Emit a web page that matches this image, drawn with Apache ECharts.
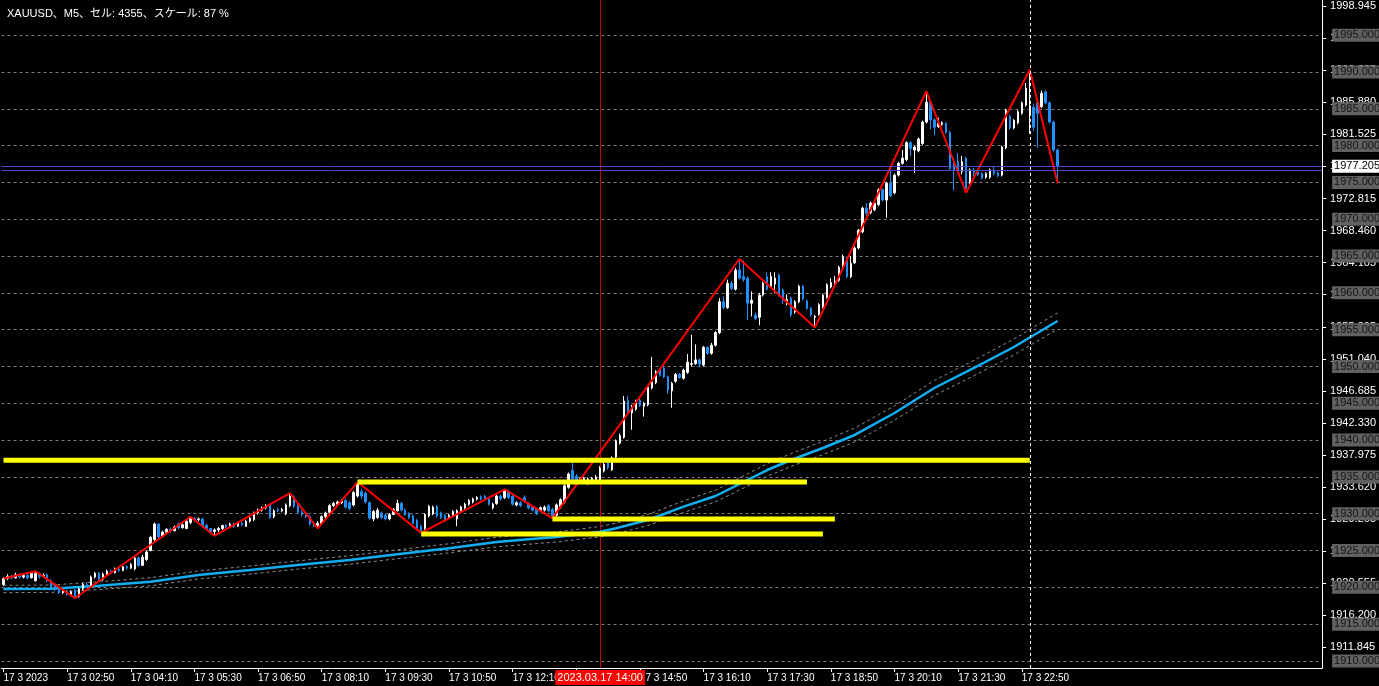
<!DOCTYPE html>
<html><head><meta charset="utf-8">
<script src="https://cdn.jsdelivr.net/npm/echarts@6/dist/echarts.min.js"></script>
<style>html,body{margin:0;padding:0;background:#000;}#c{width:1379px;height:686px;}</style>
</head><body><div id="c"></div><script>
const titleText = 'XAUUSD、M5、セル: 4355、スケール: 87 %';
const slotCount = 332;
// [open, close, low, high] per 5-minute bar, from 01:30
const ohlc = [
[1920.4,1921.2,1920.2,1921.4],[1921.2,1921.5,1921.0,1921.8],[1921.5,1921.3,1921.1,1921.7],[1921.3,1921.7,1921.2,1922.0],[1921.7,1921.4,1921.2,1921.9],
[1921.4,1921.6,1921.2,1921.8],[1921.6,1921.3,1921.1,1921.8],[1921.3,1921.9,1921.2,1922.0],[1920.9,1921.9,1920.8,1922.2],[1921.9,1921.5,1921.2,1922.0],
[1921.5,1921.6,1921.3,1921.9],[1921.7,1920.9,1920.7,1921.9],[1920.9,1920.1,1919.9,1921.1],[1920.2,1919.7,1919.5,1920.5],[1919.7,1919.3,1919.1,1919.9],
[1919.3,1919.6,1919.1,1919.8],[1919.5,1919.0,1918.9,1919.7],[1919.0,1919.4,1918.8,1919.6],[1919.6,1918.7,1918.55,1919.8],[1918.8,1919.8,1918.6,1920.0],
[1919.8,1920.4,1919.6,1920.6],[1920.4,1920.2,1919.9,1920.7],[1920.2,1921.4,1920.1,1921.6],[1921.4,1921.9,1921.2,1922.1],[1921.9,1921.1,1920.9,1922.1],
[1921.1,1921.8,1920.9,1922.0],[1921.8,1922.2,1921.6,1922.4],[1922.2,1922.0,1921.8,1922.4],[1922.0,1922.5,1921.9,1922.7],[1922.5,1922.3,1922.1,1922.7],
[1922.3,1922.8,1922.2,1922.9],[1922.8,1922.6,1922.4,1923.0],[1922.6,1923.1,1922.5,1923.3],[1922.5,1924.0,1922.3,1924.1],[1924.0,1923.0,1922.8,1924.2],
[1923.0,1924.1,1922.9,1924.4],[1923.8,1924.8,1923.6,1925.0],[1925.0,1926.8,1924.9,1927.0],[1926.5,1928.6,1926.3,1928.8],[1928.6,1926.9,1926.7,1928.7],
[1926.9,1927.5,1926.8,1927.7],[1927.5,1927.9,1927.3,1928.0],[1927.9,1927.7,1927.4,1928.1],[1927.7,1928.2,1927.6,1928.4],[1928.6,1928.1,1927.9,1928.8],
[1928.1,1928.5,1928.0,1928.7],[1928.0,1929.0,1927.9,1929.2],[1928.8,1929.4,1928.6,1929.6],[1929.4,1929.2,1928.9,1929.5],[1929.2,1929.3,1929.0,1929.5],
[1929.3,1928.3,1928.1,1929.4],[1928.4,1928.0,1927.8,1928.6],[1928.0,1927.6,1927.4,1928.1],[1927.6,1927.8,1927.0,1928.0],[1927.8,1928.0,1927.5,1928.2],
[1928.0,1928.4,1927.8,1928.5],[1928.4,1928.2,1928.0,1928.6],[1928.2,1928.6,1928.1,1928.8],[1928.6,1928.3,1928.1,1928.8],[1928.3,1928.7,1928.2,1928.9],
[1928.7,1928.5,1928.3,1928.9],[1928.3,1929.0,1928.2,1929.2],[1929.0,1929.4,1928.8,1929.6],[1929.2,1930.1,1929.0,1930.3],[1930.1,1930.5,1929.9,1930.7],
[1930.5,1930.8,1930.3,1931.0],[1930.8,1931.1,1930.6,1931.3],[1931.2,1929.5,1929.3,1931.4],[1929.6,1930.4,1929.4,1930.6],[1930.6,1930.4,1930.2,1930.8],
[1930.4,1930.6,1930.2,1930.8],[1930.0,1931.2,1929.8,1931.4],[1931.1,1932.4,1930.9,1932.8],[1932.3,1931.0,1930.8,1932.5],[1931.0,1930.2,1930.0,1931.3],
[1930.2,1929.9,1929.6,1930.5],[1929.9,1929.6,1929.4,1930.1],[1929.6,1928.6,1928.4,1929.8],[1928.6,1928.4,1928.2,1928.9],[1928.4,1928.7,1928.0,1929.0],
[1928.7,1929.6,1928.5,1929.8],[1929.6,1930.1,1929.4,1930.3],[1930.2,1931.1,1930.0,1931.3],[1931.1,1931.4,1930.9,1931.6],[1931.3,1931.6,1931.2,1931.8],
[1931.5,1931.7,1931.3,1932.0],[1931.8,1930.9,1930.7,1932.0],[1931.5,1930.7,1930.5,1931.7],[1931.2,1932.9,1931.0,1933.1],[1932.4,1934.1,1932.2,1934.3],
[1933.0,1932.4,1932.0,1933.4],[1932.8,1931.6,1931.4,1933.0],[1931.5,1929.4,1929.2,1931.7],[1929.3,1930.3,1929.0,1930.5],[1929.5,1930.5,1929.3,1930.8],
[1930.1,1929.5,1929.3,1930.3],[1929.8,1929.3,1929.1,1930.0],[1929.3,1929.9,1929.1,1930.1],[1929.9,1930.6,1929.8,1930.8],[1930.4,1931.4,1930.3,1931.9],
[1931.4,1930.5,1930.3,1931.6],[1930.5,1929.9,1929.7,1930.7],[1930.0,1929.5,1929.3,1930.2],[1929.7,1928.7,1928.5,1929.9],[1929.1,1928.0,1927.8,1929.3],
[1928.3,1927.7,1927.4,1928.5],[1928.0,1929.9,1927.8,1930.1],[1929.7,1931.0,1929.5,1931.2],[1930.0,1930.9,1929.8,1931.1],[1931.0,1929.7,1929.5,1931.2],
[1930.1,1929.5,1929.3,1930.3],[1929.8,1929.1,1928.9,1930.0],[1929.6,1929.8,1929.4,1930.0],[1929.8,1930.3,1929.6,1930.5],[1929.3,1930.4,1928.3,1930.6],
[1930.4,1930.9,1930.2,1931.1],[1930.8,1931.3,1930.6,1931.5],[1931.3,1931.8,1931.1,1932.0],[1931.6,1932.0,1931.4,1932.2],[1932.0,1932.2,1931.8,1932.4],
[1932.3,1932.0,1931.8,1932.5],[1932.4,1932.0,1931.8,1932.6],[1932.0,1931.3,1931.1,1932.2],[1930.8,1931.3,1930.6,1931.5],[1931.4,1932.4,1931.2,1932.6],
[1932.4,1932.0,1931.8,1932.6],[1932.2,1933.1,1932.0,1933.3],[1933.0,1932.2,1932.0,1933.2],[1932.4,1931.3,1931.1,1932.6],[1931.2,1931.5,1931.0,1931.7],
[1931.5,1931.1,1930.9,1931.7],[1932.2,1931.7,1931.5,1932.5],[1931.4,1930.8,1930.6,1931.6],[1930.9,1930.5,1930.3,1931.1],[1930.6,1930.0,1929.8,1930.8],
[1930.4,1930.8,1930.2,1931.0],[1930.5,1930.9,1930.3,1931.1],[1931.1,1930.4,1930.2,1931.3],[1930.6,1929.7,1929.4,1930.8],[1929.8,1931.2,1929.6,1931.4],
[1930.9,1931.9,1930.7,1932.1],[1931.6,1933.8,1931.4,1934.0],[1933.6,1935.4,1933.4,1935.6],[1935.9,1934.7,1934.4,1936.9],[1935.1,1934.5,1934.3,1935.4],
[1934.3,1934.8,1934.1,1935.0],[1934.4,1934.8,1934.1,1935.0],[1934.2,1934.7,1933.9,1934.9],[1934.5,1934.8,1934.3,1935.0],[1934.6,1935.0,1934.4,1935.3],
[1934.6,1936.2,1934.4,1936.5],[1935.8,1936.7,1935.6,1937.0],[1936.9,1936.3,1936.0,1937.1],[1936.0,1937.6,1935.8,1937.8],[1937.7,1939.9,1937.5,1940.1],
[1939.6,1940.6,1939.4,1940.9],[1940.4,1945.3,1940.2,1946.0],[1945.4,1943.8,1943.5,1946.0],[1943.7,1944.4,1941.4,1944.8],[1944.2,1945.2,1944.0,1945.5],
[1945.4,1944.7,1944.5,1945.6],[1944.6,1945.0,1943.2,1945.2],[1944.8,1947.2,1944.6,1947.4],[1947.1,1947.9,1946.9,1951.3],[1947.8,1949.3,1947.6,1949.5],
[1949.6,1948.8,1948.6,1949.8],[1949.8,1948.6,1948.4,1950.0],[1948.6,1946.8,1946.3,1948.8],[1946.7,1947.7,1944.4,1947.9],[1948.0,1948.9,1947.8,1949.1],
[1948.9,1948.5,1948.3,1949.1],[1948.4,1949.5,1948.2,1949.7],[1949.2,1950.6,1949.0,1951.7],[1950.3,1950.4,1950.0,1954.3],[1950.4,1950.9,1950.2,1953.0],
[1950.9,1950.3,1949.9,1951.1],[1950.2,1952.6,1950.0,1952.8],[1952.6,1951.8,1951.6,1952.8],[1951.8,1952.9,1951.6,1953.2],[1952.9,1954.6,1952.7,1954.8],
[1954.6,1958.8,1954.4,1959.3],[1958.8,1958.0,1957.8,1959.5],[1958.0,1961.3,1957.8,1961.8],[1961.3,1960.6,1960.4,1961.6],[1960.5,1963.1,1960.3,1963.4],
[1963.1,1962.0,1961.8,1964.6],[1962.2,1961.8,1961.5,1964.4],[1962.0,1958.6,1956.3,1962.2],[1958.6,1959.0,1956.8,1960.2],[1957.0,1956.5,1956.3,1957.3],
[1956.7,1959.7,1955.6,1960.0],[1959.7,1961.3,1959.5,1961.5],[1962.2,1960.5,1960.3,1962.8],[1960.9,1962.2,1960.7,1962.8],[1961.2,1962.0,1960.0,1962.8],
[1962.4,1959.7,1959.5,1962.6],[1960.4,1959.0,1958.5,1960.6],[1958.8,1959.1,1958.3,1959.8],[1959.3,1957.0,1956.7,1959.5],[1957.4,1958.8,1957.2,1959.0],
[1958.8,1960.9,1958.6,1961.1],[1960.9,1959.2,1959.0,1961.1],[1958.9,1957.9,1957.7,1959.1],[1957.9,1957.0,1956.8,1958.1],[1956.7,1956.8,1955.3,1957.0],
[1957.1,1958.4,1956.9,1958.6],[1958.1,1959.7,1957.9,1959.9],[1959.4,1961.1,1959.2,1961.3],[1960.8,1961.4,1960.6,1962.0],[1961.2,1961.6,1961.0,1962.3],
[1961.7,1963.5,1961.5,1963.7],[1963.5,1964.9,1963.3,1965.2],[1964.7,1962.2,1962.0,1964.9],[1962.2,1964.0,1962.0,1965.0],[1964.1,1966.1,1963.9,1966.3],
[1966.1,1968.5,1965.9,1968.7],[1968.3,1971.5,1968.1,1971.7],[1971.5,1970.8,1970.4,1972.2],[1970.9,1972.2,1970.7,1972.4],[1971.3,1972.2,1971.1,1972.4],
[1972.0,1974.0,1971.8,1974.2],[1974.0,1972.6,1972.4,1974.2],[1972.6,1974.9,1970.2,1975.1],[1974.9,1973.2,1973.0,1977.0],[1973.6,1976.0,1973.4,1976.2],
[1976.0,1977.6,1975.8,1977.8],[1977.6,1978.3,1977.4,1979.4],[1978.1,1980.4,1977.9,1980.6],[1980.4,1979.6,1978.6,1980.6],[1979.4,1979.8,1976.3,1980.0],
[1979.3,1980.9,1979.1,1981.1],[1980.3,1983.2,1980.1,1983.4],[1983.2,1985.9,1983.0,1987.4],[1985.9,1983.5,1982.2,1986.2],[1983.5,1982.5,1981.4,1983.7],
[1982.6,1983.0,1982.4,1983.8],[1982.9,1983.1,1982.7,1983.3],[1983.0,1981.8,1981.6,1983.2],[1981.8,1976.9,1976.7,1982.0],[1977.5,1976.6,1973.9,1977.7],
[1977.8,1976.6,1976.4,1979.0],[1976.5,1977.8,1976.1,1978.6],[1978.3,1974.2,1973.6,1978.5],[1975.0,1976.7,1974.8,1976.9],[1976.6,1976.3,1975.9,1977.0],
[1976.4,1976.1,1975.9,1976.6],[1976.2,1975.6,1975.4,1976.4],[1975.7,1976.2,1975.5,1976.4],[1975.7,1976.7,1975.5,1976.9],[1976.6,1976.2,1976.0,1977.1],
[1976.3,1975.9,1975.7,1976.5],[1976.0,1979.8,1975.8,1980.0],[1979.7,1984.8,1979.5,1985.0],[1984.0,1982.4,1982.2,1984.2],[1982.4,1983.4,1982.2,1983.6],
[1983.1,1984.6,1982.9,1984.8],[1984.4,1985.8,1984.2,1986.0],[1985.5,1987.8,1985.3,1988.5],[1984.3,1985.4,1981.6,1990.3],[1985.2,1982.5,1982.0,1985.6],
[1985.8,1984.4,1979.7,1986.0],[1985.3,1987.1,1985.1,1987.5],[1987.3,1985.8,1985.6,1987.5],[1985.8,1983.2,1983.0,1986.0],[1983.2,1979.4,1979.2,1983.4],
[1979.4,1977.2,1974.9,1979.6]
];
// ZigZag vertices [barIndex, price]
const zigzag = [[0,1921.2],[8,1922.2],[18,1918.55],[47,1929.6],[53,1927.0],[72,1932.8],[79,1928.0],[89,1934.3],[105,1927.4],[126,1933.3],[138,1929.4],[185,1964.6],[204,1955.3],[232,1987.4],[242,1973.6],[258,1990.3],[265,1974.9]];
// moving average and its envelope
const maIdx   = [0,12,24,37,49,62,74,87,99,112,124,132,139,150,154,162,171,179,192,198,206,214,224,234,244,254,265];
const maVal   = [1919.78,1919.82,1920.23,1920.77,1921.68,1922.36,1923.04,1923.72,1924.49,1925.31,1926.16,1926.53,1926.84,1927.56,1928.02,1929.15,1930.96,1932.41,1935.94,1937.30,1938.93,1940.70,1943.68,1947.08,1949.80,1952.65,1956.18];
const maUpper = [1920.28,1920.32,1920.75,1921.32,1922.23,1922.91,1923.60,1924.30,1925.09,1925.93,1926.81,1927.20,1927.52,1928.26,1928.74,1929.90,1931.74,1933.21,1936.79,1938.17,1939.83,1941.65,1944.65,1948.10,1950.85,1953.73,1957.28];
const maLower = [1919.28,1919.32,1919.71,1920.22,1921.13,1921.81,1922.48,1923.14,1923.89,1924.69,1925.51,1925.86,1926.16,1926.86,1927.30,1928.40,1930.18,1931.61,1935.09,1936.43,1938.03,1939.75,1942.71,1946.06,1948.75,1951.57,1955.08];
// yellow horizontal levels [fromBar, toBar, price]
const levels = [[0,258,1937.25],[89,202,1934.3],[138,209,1929.3],[105,206,1927.25]];
const gridLevels = [1910,1915,1920,1925,1930,1935,1940,1945,1950,1955,1960,1965,1970,1975,1980,1985,1990,1995];
const priceTicks = [1911.845,1916.2,1920.555,1924.91,1929.265,1933.62,1937.975,1942.33,1946.685,1951.04,1955.395,1959.75,1964.105,1968.46,1972.815,1977.17,1981.525,1985.88,1990.235,1994.59,1998.945];
const xTickIdx  = [0,16,32,48,64,80,96,112,128,144,160,176,192,208,224,240,256];
const xTickText = ['17 3 2023','17 3 02:50','17 3 04:10','17 3 05:30','17 3 06:50','17 3 08:10','17 3 09:30','17 3 10:50','17 3 12:10','17 3 13:30','17 3 14:50','17 3 16:10','17 3 17:30','17 3 18:50','17 3 20:10','17 3 21:30','17 3 22:50'];
const bidPrice = 1977.205, askPrice = 1976.66;
const maLastLabel = 1956.18, bandLastLabel = 1957.284;
const vLineIdx = 150, vLineText = '2023.03.17 14:00';
const crossIdx = 258;
const yMin = 1909.049, yMax = 1999.779;

const cats = Array.from({length: slotCount}, (_, i) => 'b' + i);
const tickMap = {}; xTickIdx.forEach((i, k) => tickMap[i] = xTickText[k]);
const isTick = (i) => tickMap[i] !== undefined;
const F = "'Liberation Sans', Arial, sans-serif";

const boxLabel = (bg, fg) => ({show: true, position: 'end', distance: 10, color: fg, backgroundColor: bg,
  fontSize: 11, fontFamily: F, padding: [1, 4, 0, 2], lineHeight: 12, formatter: p => (+p.value).toFixed(3)});

const series = [
  {type: 'line', name: 'upper', data: maIdx.map((x, k) => [x, maUpper[k]]), symbol: 'none', silent: true, z: 2,
   lineStyle: {color: '#8c8c8c', width: 1, type: [3, 3]},
   markLine: {silent: true, symbol: ['none', 'none'], z: 1, precision: 3, animation: false,
     lineStyle: {color: '#7a7a7a', width: 1, type: [3, 3]},
     label: boxLabel('#616161', '#141414'),
     data: gridLevels.map(v => ({yAxis: v}))}},
  {type: 'line', name: 'lower', data: maIdx.map((x, k) => [x, maLower[k]]), symbol: 'none', silent: true, z: 2,
   lineStyle: {color: '#8c8c8c', width: 1, type: [3, 3]},
   markLine: {silent: true, symbol: ['none', 'none'], z: 0.5, precision: 3, animation: false,
     data: [{yAxis: maLastLabel, lineStyle: {opacity: 0}, label: boxLabel('#10b0f0', '#ffffff')}]}},
  {type: 'line', name: 'ma', data: maIdx.map((x, k) => [x, maVal[k]]), symbol: 'none', silent: true, z: 3,
   lineStyle: {color: '#12aef0', width: 2.5},
   markLine: {silent: true, symbol: ['none', 'none'], z: 3, animation: false,
     data: [{xAxis: vLineIdx, lineStyle: {color: '#c80000', width: 1, type: 'solid'},
       label: {show: true, position: 'start', distance: 2, formatter: vLineText, color: '#fff', backgroundColor: '#ff0000',
         fontSize: 11, fontFamily: F, padding: [2, 2, 2, 2]}}]}},
  {type: 'candlestick', name: 'XAUUSD', data: ohlc, barWidth: 2, silent: true, z: 4,
   itemStyle: {color: '#ffffff', color0: '#1e90ff', borderColor: '#ffffff', borderColor0: '#1e90ff', borderWidth: 1},
   markLine: {silent: true, symbol: ['none', 'none'], z: 8, precision: 3, animation: false,
     data: [
       {yAxis: bidPrice, lineStyle: {color: '#5048c0', width: 1, type: 'solid'}, label: boxLabel('#ffffff', '#000000')},
       {yAxis: askPrice, lineStyle: {color: '#5048c0', width: 1, type: 'solid'}, label: {show: false}},
       {yAxis: bandLastLabel, lineStyle: {opacity: 0}, label: boxLabel('#616161', '#141414')},
       {xAxis: crossIdx, lineStyle: {color: '#ffffff', width: 1, type: [3, 3]}, label: {show: false}}
     ]}},
  {type: 'line', name: 'zigzag', data: zigzag, symbol: 'none', silent: true, z: 5,
   lineStyle: {color: '#ff0000', width: 2}}
];
levels.forEach(([a, b, v]) => series.push({type: 'line', data: [[a, v], [b, v]], symbol: 'none', silent: true, z: 6,
  lineStyle: {color: '#ffff00', width: 5}}));

const chart = echarts.init(document.getElementById('c'));
chart.setOption({
  backgroundColor: '#000000',
  animation: false,
  title: {text: titleText, left: 2, top: 3, textStyle: {color: '#ffffff', fontSize: 11, fontWeight: 'normal',
    fontFamily: "'Liberation Sans', 'Noto Sans CJK JP', sans-serif"}},
  grid: {left: 1.5, right: 49.5, top: 0, bottom: 18, containLabel: false},
  xAxis: {type: 'category', data: cats, boundaryGap: true,
    axisLine: {show: true, lineStyle: {color: '#ffffff', width: 1}},
    axisTick: {show: true, alignWithLabel: true, interval: (i) => isTick(i), length: 4, lineStyle: {color: '#ffffff'}},
    axisLabel: {interval: (i) => isTick(i), formatter: (v, i) => tickMap[i] || '', color: '#ffffff', fontSize: 10,
      fontFamily: F, align: 'left', margin: 5},
    splitLine: {show: false}},
  yAxis: {type: 'value', position: 'right', min: yMin, max: yMax,
    axisLine: {show: true, lineStyle: {color: '#ffffff'}},
    axisTick: {show: true, customValues: priceTicks, length: 4, lineStyle: {color: '#ffffff'}},
    axisLabel: {customValues: priceTicks, formatter: v => v.toFixed(3), color: '#ffffff', fontSize: 11, fontFamily: F, margin: 8},
    splitLine: {show: false}},
  series: series
});
</script></body></html>
